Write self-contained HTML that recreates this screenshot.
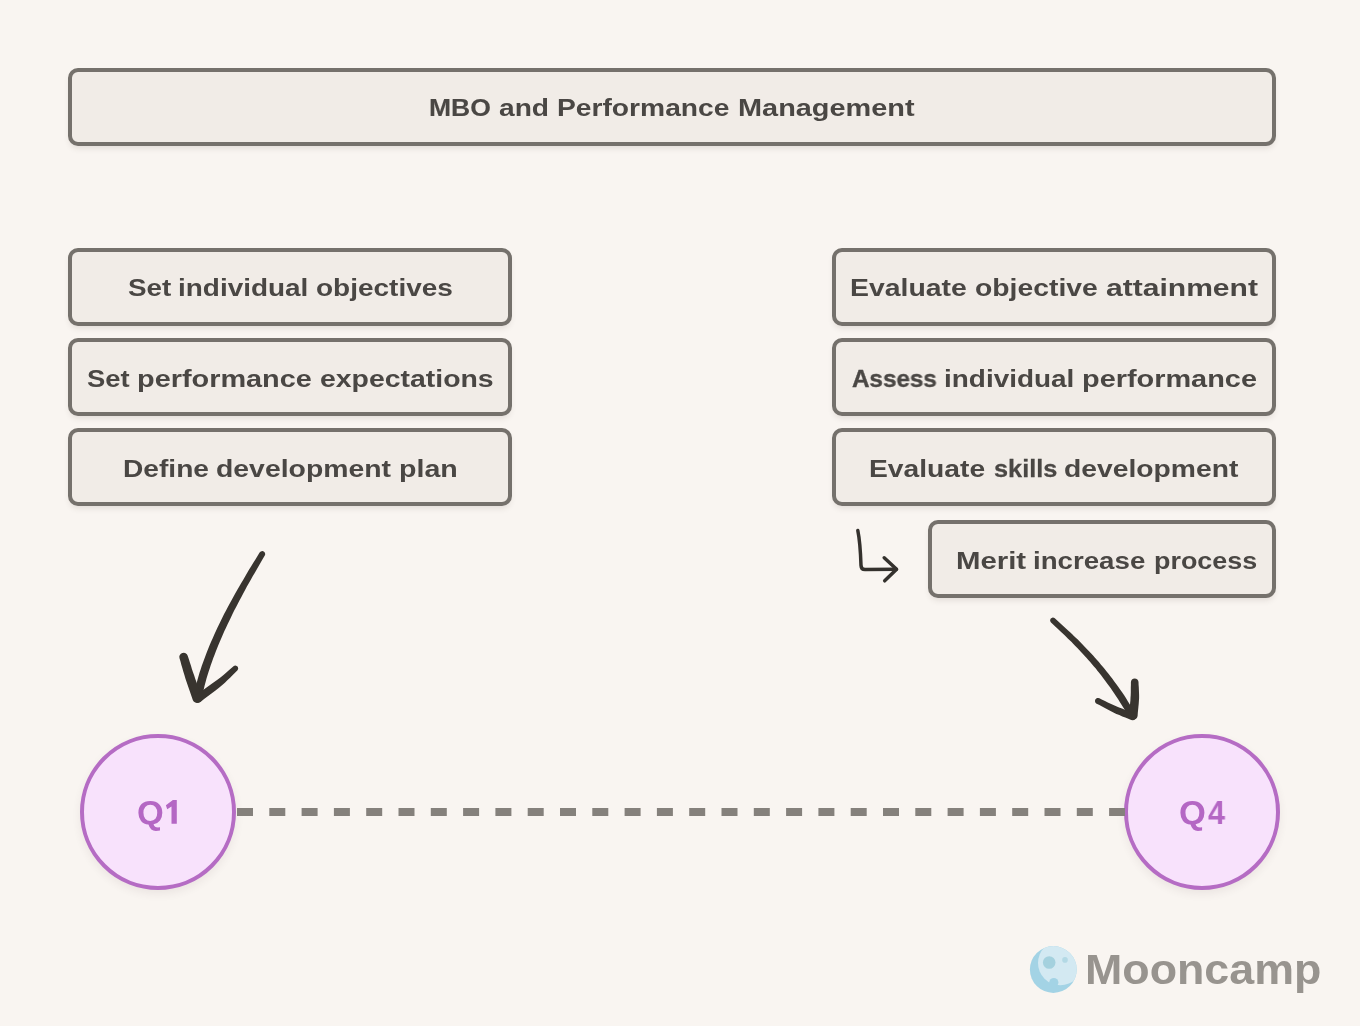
<!DOCTYPE html>
<html>
<head>
<meta charset="utf-8">
<title>MBO and Performance Management</title>
<style>
html,body{margin:0;padding:0;}
body{width:1360px;height:1026px;background:#f9f5f1;position:relative;overflow:hidden;font-family:"Liberation Sans",sans-serif;}
.box{position:absolute;box-sizing:border-box;border:4px solid #75716c;border-radius:10px;background:#f1ece7;box-shadow:0 4px 6px -2px rgba(60,50,40,0.13);}
.w{position:absolute;white-space:nowrap;font-weight:bold;font-size:24.4px;line-height:28px;height:28px;color:#4a4744;transform-origin:0 50%;will-change:transform;}
.circ{position:absolute;box-sizing:border-box;width:156px;height:156px;border-radius:50%;border:4px solid #b56cc4;background:#f8e2fc;box-shadow:0 4px 8px rgba(80,50,60,0.08);}
.qg{position:absolute;white-space:nowrap;font-weight:bold;font-size:33px;line-height:36px;height:36px;color:#b467c4;transform-origin:0 50%;will-change:transform;}
svg{position:absolute;left:0;top:0;}
</style>
</head>
<body>

<div class="box" style="left:68px;top:68px;width:1208px;height:78px;"></div>

<div class="box" style="left:68px;top:248px;width:444px;height:78px;"></div>

<div class="box" style="left:68px;top:338px;width:444px;height:78px;"></div>

<div class="box" style="left:68px;top:428px;width:444px;height:78px;"></div>

<div class="box" style="left:832px;top:248px;width:444px;height:78px;"></div>

<div class="box" style="left:832px;top:338px;width:444px;height:78px;"></div>

<div class="box" style="left:832px;top:428px;width:444px;height:78px;"></div>

<div class="box" style="left:928px;top:520px;width:348px;height:78px;"></div>

<div class="circ" style="left:80px;top:734px;"></div>
<div class="circ" style="left:1124px;top:734px;"></div>

<div class="w" style="left:429.21px;top:94.00px;-webkit-text-stroke:0.15px #4a4744;transform:scaleX(1.0868)">MBO</div>
<div class="w" style="left:499.40px;top:94.00px;transform:scaleX(1.1539)">and</div>
<div class="w" style="left:557.04px;top:94.00px;transform:scaleX(1.1562)">Performance</div>
<div class="w" style="left:737.82px;top:94.00px;transform:scaleX(1.1848)">Management</div>
<div class="w" style="left:127.70px;top:274.00px;transform:scaleX(1.1392)">Set</div>
<div class="w" style="left:177.86px;top:274.00px;transform:scaleX(1.1450)">individual</div>
<div class="w" style="left:316.10px;top:274.00px;transform:scaleX(1.1471)">objectives</div>
<div class="w" style="left:86.90px;top:365.00px;transform:scaleX(1.1233)">Set</div>
<div class="w" style="left:137.02px;top:365.00px;transform:scaleX(1.1834)">performance</div>
<div class="w" style="left:320.00px;top:365.00px;transform:scaleX(1.1647)">expectations</div>
<div class="w" style="left:123.05px;top:455.00px;transform:scaleX(1.1538)">Define</div>
<div class="w" style="left:216.34px;top:455.00px;transform:scaleX(1.1633)">development</div>
<div class="w" style="left:398.83px;top:455.00px;transform:scaleX(1.1712)">plan</div>
<div class="w" style="left:849.74px;top:274.00px;transform:scaleX(1.1644)">Evaluate</div>
<div class="w" style="left:975.00px;top:274.00px;transform:scaleX(1.1610)">objective</div>
<div class="w" style="left:1106.20px;top:274.00px;transform:scaleX(1.2321)">attainment</div>
<div class="w" style="left:852.20px;top:365.00px;-webkit-text-stroke:0.36px #4a4744;transform:scaleX(0.9932)">Assess</div>
<div class="w" style="left:944.16px;top:365.00px;transform:scaleX(1.1450)">individual</div>
<div class="w" style="left:1081.52px;top:365.00px;transform:scaleX(1.1841)">performance</div>
<div class="w" style="left:869.04px;top:455.00px;transform:scaleX(1.1573)">Evaluate</div>
<div class="w" style="left:993.60px;top:455.00px;-webkit-text-stroke:0.26px #4a4744;transform:scaleX(1.0371)">skills</div>
<div class="w" style="left:1064.24px;top:455.00px;transform:scaleX(1.1593)">development</div>
<div class="w" style="left:955.80px;top:547.00px;transform:scaleX(1.2038)">Merit</div>
<div class="w" style="left:1033.47px;top:547.00px;transform:scaleX(1.1342)">increase</div>
<div class="w" style="left:1153.50px;top:547.00px;transform:scaleX(1.1024)">process</div>
<div class="qg" style="left:136.86px;top:795px;transform:scaleX(1.0417)">Q</div>
<div class="qg" style="left:1178.85px;top:795px;transform:scaleX(1.0458)">Q</div>
<div class="qg" style="left:1208.20px;top:795px;transform:scaleX(0.9263)">4</div>

<svg width="1360" height="1026" viewBox="0 0 1360 1026">
  <!-- dashed timeline -->
  <line x1="237" y1="812" x2="1125" y2="812" stroke="#85817c" stroke-width="8" stroke-dasharray="16 16.3"/>
  <!-- small elbow arrow -->
  <g fill="none" stroke="#34312d" stroke-width="3.5" stroke-linecap="round" stroke-linejoin="round">
    <path d="M857.8 530.5 C860 541 860.6 553 861 565.4 Q861.2 569.6 865 569.6 L896.3 569.2"/>
    <path d="M884.2 557.8 L896.6 569.2 L884.7 580.8"/>
  </g>
  <!-- big arrows -->
  <g fill="#38342f" stroke="none">
    <path d="M259.6 552.6 L257.5 556.0 L255.4 559.4 L253.3 562.8 L251.2 566.2 L249.1 569.6 L247.1 573.1 L245.1 576.5 L243.1 579.9 L241.1 583.3 L239.1 586.7 L237.2 590.1 L235.2 593.5 L233.3 596.9 L231.4 600.4 L229.6 603.8 L227.7 607.3 L225.9 610.7 L224.1 614.1 L222.4 617.6 L220.7 621.0 L219.0 624.4 L217.4 627.8 L215.8 631.3 L214.2 634.7 L212.7 638.2 L211.2 641.6 L209.7 645.1 L208.3 648.5 L206.9 652.0 L205.6 655.5 L204.3 658.9 L203.0 662.4 L201.8 665.8 L200.7 669.3 L199.5 672.7 L198.5 676.2 L197.5 679.7 L196.6 683.2 L195.7 686.7 L194.9 690.2 L194.1 693.6 L193.2 697.0 L193.1 698.6 L193.7 700.2 L194.8 701.4 L196.3 702.1 L197.9 702.2 L199.5 701.6 L200.7 700.5 L201.4 699.0 L202.2 695.6 L203.1 692.1 L203.9 688.7 L204.7 685.3 L205.6 681.9 L206.5 678.6 L207.5 675.2 L208.6 671.8 L209.7 668.5 L210.8 665.1 L212.0 661.7 L213.2 658.3 L214.5 654.9 L215.8 651.5 L217.2 648.1 L218.5 644.7 L220.0 641.3 L221.4 637.9 L222.9 634.5 L224.4 631.1 L226.0 627.7 L227.6 624.3 L229.2 620.9 L230.9 617.5 L232.5 614.1 L234.2 610.6 L236.0 607.2 L237.8 603.7 L239.6 600.3 L241.4 596.9 L243.2 593.5 L245.1 590.0 L246.9 586.6 L248.8 583.2 L250.8 579.8 L252.7 576.3 L254.7 572.9 L256.7 569.5 L258.7 566.0 L260.7 562.6 L262.7 559.1 L264.8 555.6 L265.2 554.5 L265.1 553.4 L264.6 552.3 L263.7 551.5 L262.6 551.1 L261.5 551.2 L260.4 551.7Z"/>
    <path d="M179.5 658.3 L180.5 661.6 L181.4 664.9 L182.4 668.2 L183.3 671.6 L184.4 675.0 L185.4 678.4 L186.6 682.0 L187.8 685.5 L189.0 689.1 L190.3 692.7 L191.5 696.3 L192.8 699.9 L193.7 701.4 L195.2 702.5 L196.9 703.0 L198.8 702.7 L200.3 701.8 L201.4 700.3 L201.9 698.6 L201.6 696.7 L200.4 693.2 L199.1 689.6 L197.8 686.0 L196.6 682.5 L195.3 679.0 L194.2 675.6 L193.0 672.2 L191.9 668.9 L190.9 665.6 L189.8 662.3 L188.8 659.0 L187.7 655.7 L186.9 654.3 L185.6 653.2 L184.0 652.7 L182.3 652.9 L180.9 653.7 L179.8 655.0 L179.3 656.6Z"/>
    <path d="M233.5 666.3 L230.9 668.6 L228.3 670.8 L225.8 673.0 L223.2 675.2 L220.4 677.4 L217.4 679.7 L214.2 682.1 L210.7 684.6 L206.9 687.2 L203.1 689.9 L199.3 692.5 L195.5 695.1 L194.4 696.3 L193.9 697.9 L193.9 699.5 L194.6 701.0 L195.8 702.1 L197.4 702.6 L199.0 702.6 L200.5 701.9 L204.1 699.1 L207.8 696.3 L211.5 693.5 L215.2 690.7 L218.7 688.0 L222.0 685.3 L224.9 682.7 L227.6 680.1 L230.1 677.7 L232.5 675.3 L234.8 672.9 L237.3 670.5 L237.9 669.6 L238.2 668.5 L238.0 667.4 L237.5 666.5 L236.6 665.9 L235.5 665.6 L234.4 665.8Z"/>
    <path d="M1051.0 622.5 L1052.9 624.2 L1054.7 625.9 L1056.6 627.7 L1058.5 629.4 L1060.3 631.2 L1062.2 632.9 L1064.1 634.7 L1065.9 636.6 L1067.8 638.4 L1069.7 640.2 L1071.6 642.1 L1073.4 644.0 L1075.3 645.9 L1077.1 647.8 L1079.0 649.7 L1080.8 651.7 L1082.7 653.7 L1084.5 655.8 L1086.4 657.8 L1088.3 659.9 L1090.2 662.0 L1092.0 664.2 L1093.9 666.4 L1095.8 668.6 L1097.6 670.9 L1099.5 673.2 L1101.3 675.6 L1103.1 678.0 L1105.0 680.4 L1106.8 683.0 L1108.7 685.5 L1110.6 688.1 L1112.4 690.8 L1114.3 693.5 L1116.1 696.3 L1118.0 699.1 L1119.8 702.0 L1121.7 704.9 L1123.6 708.0 L1125.5 711.1 L1127.3 714.2 L1129.2 717.3 L1130.2 718.3 L1131.5 718.9 L1132.9 719.0 L1134.2 718.5 L1135.2 717.5 L1135.8 716.2 L1135.9 714.8 L1135.4 713.5 L1133.5 710.5 L1131.6 707.4 L1129.7 704.2 L1127.8 701.2 L1125.9 698.1 L1124.0 695.1 L1122.1 692.3 L1120.1 689.5 L1118.2 686.7 L1116.2 684.0 L1114.3 681.4 L1112.4 678.8 L1110.4 676.3 L1108.5 673.8 L1106.6 671.4 L1104.7 669.0 L1102.8 666.7 L1100.8 664.4 L1098.9 662.1 L1097.0 659.9 L1095.0 657.7 L1093.1 655.6 L1091.2 653.5 L1089.3 651.4 L1087.3 649.4 L1085.4 647.4 L1083.5 645.4 L1081.6 643.5 L1079.7 641.6 L1077.8 639.6 L1075.8 637.8 L1073.9 635.9 L1072.0 634.0 L1070.1 632.2 L1068.1 630.4 L1066.2 628.7 L1064.3 626.9 L1062.4 625.2 L1060.5 623.4 L1058.6 621.7 L1056.7 620.0 L1054.8 618.3 L1053.9 617.8 L1052.8 617.6 L1051.7 617.9 L1050.8 618.5 L1050.3 619.4 L1050.1 620.5 L1050.4 621.6Z"/>
    <path d="M1130.9 682.3 L1130.9 684.9 L1130.8 687.5 L1130.8 690.1 L1130.8 692.6 L1130.7 695.2 L1130.5 697.8 L1130.4 700.5 L1130.1 703.3 L1129.9 706.2 L1129.6 709.2 L1129.3 712.2 L1129.0 715.1 L1129.2 716.8 L1130.0 718.3 L1131.3 719.3 L1132.9 719.8 L1134.6 719.6 L1136.1 718.8 L1137.1 717.5 L1137.6 715.9 L1137.8 713.0 L1138.1 710.0 L1138.4 707.0 L1138.7 704.1 L1138.9 701.1 L1139.1 698.2 L1139.1 695.3 L1139.0 692.6 L1138.9 689.9 L1138.8 687.3 L1138.6 684.7 L1138.5 682.1 L1138.2 680.7 L1137.4 679.5 L1136.1 678.7 L1134.6 678.4 L1133.2 678.7 L1132.0 679.5 L1131.2 680.8Z"/>
    <path d="M1096.6 703.7 L1099.4 705.1 L1102.1 706.6 L1104.9 708.1 L1107.7 709.6 L1110.5 711.1 L1113.4 712.5 L1116.4 713.9 L1119.3 715.1 L1122.3 716.4 L1125.3 717.6 L1128.3 718.8 L1131.2 720.0 L1132.7 720.3 L1134.1 720.0 L1135.3 719.1 L1136.1 717.9 L1136.4 716.4 L1136.1 715.0 L1135.2 713.8 L1134.0 713.0 L1131.0 711.9 L1127.9 710.8 L1124.9 709.7 L1122.0 708.6 L1119.1 707.5 L1116.2 706.3 L1113.4 705.1 L1110.6 703.8 L1107.8 702.4 L1105.0 701.1 L1102.2 699.7 L1099.4 698.3 L1098.2 698.0 L1097.1 698.1 L1096.0 698.7 L1095.3 699.6 L1095.0 700.8 L1095.1 701.9 L1095.7 703.0Z"/>
  </g>
  <!-- digit 1 of Q1 -->
  <path d="M176.8 800 L176.8 823.8 L171.5 823.8 L171.5 806.6 L167.2 809.2 L165.9 805.3 L172.9 800 Z" fill="#b467c4"/>
  <!-- logo moon -->
  <g>
    <clipPath id="mc"><circle cx="1053.3" cy="969.5" r="23.4"/></clipPath>
    <circle cx="1053.3" cy="969.5" r="23.4" fill="#a3d3e5"/>
    <g clip-path="url(#mc)">
      <circle cx="1060.3" cy="963" r="22.3" fill="#d3e9f2"/>
      <circle cx="1053.8" cy="982.5" r="4.6" fill="#a3d3e5"/>
    </g>
    <circle cx="1049.2" cy="962.5" r="6.3" fill="#a4d1de"/>
    <circle cx="1065" cy="959.9" r="2.8" fill="#b3d9e5"/>
  </g>
</svg>
<div style="position:absolute;left:1085.3px;top:946px;width:240px;height:48px;line-height:48px;font-weight:bold;font-size:42px;color:#98948f;white-space:nowrap;"><span id="mc-t" style="display:inline-block;transform-origin:0 50%;will-change:transform;transform:scaleX(1.066);">Mooncamp</span></div>

</body>
</html>
